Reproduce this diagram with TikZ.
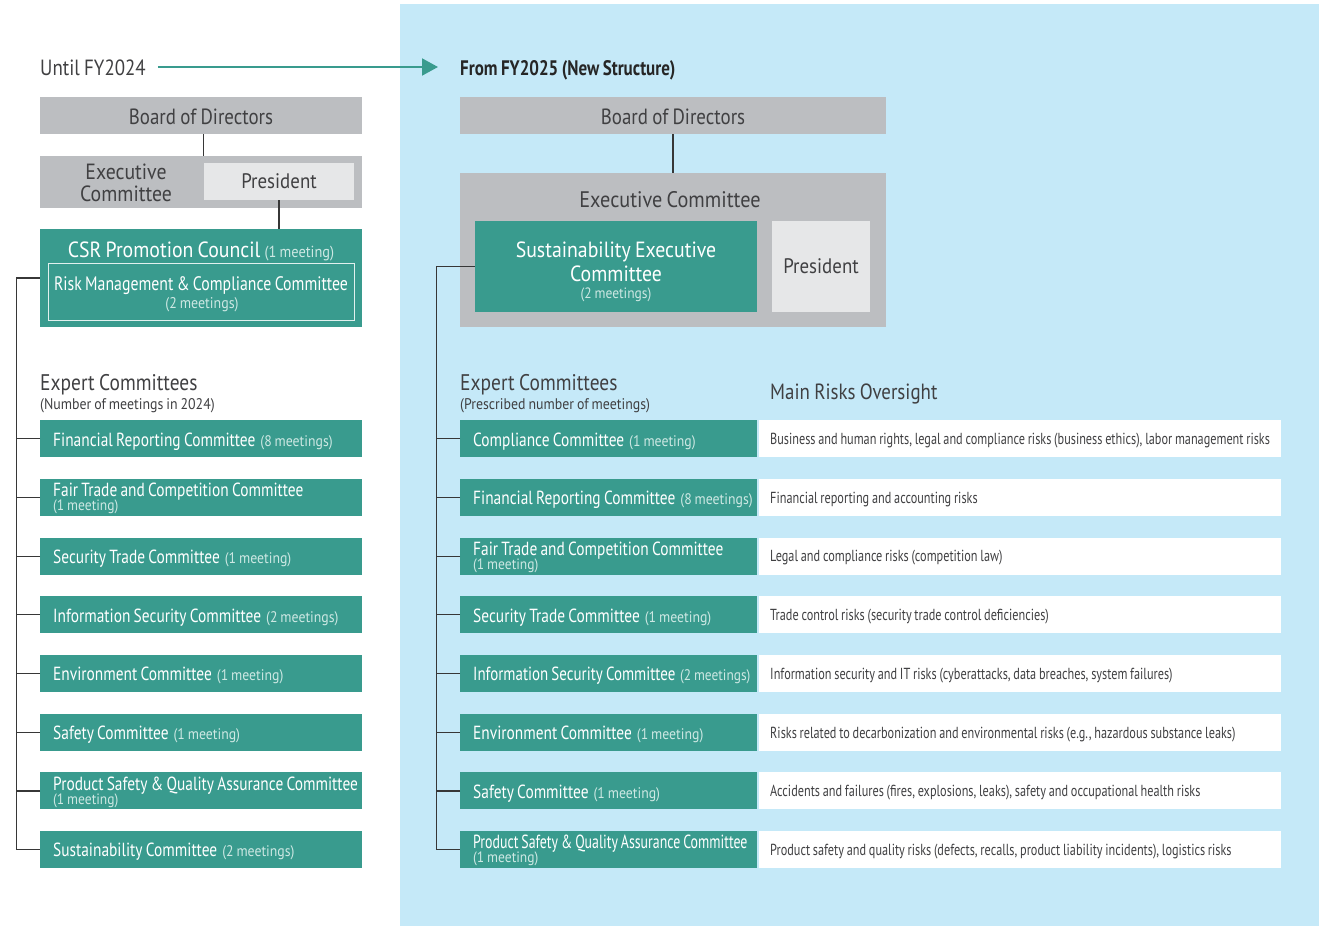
\documentclass[tikz,border=0pt]{standalone}
\usepackage{fontspec}
\setmainfont{PT Sans}
\newfontfamily\cnd[FakeStretch=0.81,WordSpace=0.8]{PT Sans}
\newfontfamily\cndr[FakeStretch=0.765,WordSpace=0.85]{PT Sans}
\newfontfamily\rgl[FakeStretch=0.90,WordSpace=0.8]{PT Sans}
\newfontfamily\lite[FakeStretch=0.86,WordSpace=0.85]{PT Sans}
\usetikzlibrary{arrows.meta}

\definecolor{teal1}{RGB}{57,155,142}
\definecolor{grey1}{RGB}{188,190,193}
\definecolor{grey2}{RGB}{230,231,232}
\definecolor{sky}{RGB}{197,233,248}
\definecolor{ink}{RGB}{64,64,66}
\definecolor{meet}{RGB}{205,232,227}
\definecolor{wire}{RGB}{55,55,55}

\newcommand\fsz[1]{\fontsize{#1}{#1}\selectfont}
\newcommand\mt[1]{{\rgl\fontsize{15.3}{15.3}\selectfont\color{meet}#1}}

\tikzset{
  greybox/.style={rectangle, fill=grey1, inner sep=0pt, text=ink, font=\lite\fsz{22}},
  paleb/.style={rectangle, fill=grey2, inner sep=0pt, text=ink, font=\rgl\fsz{21}},
  tealbox/.style={rectangle, fill=teal1, inner sep=0pt, text=white},
  rowbox/.style={rectangle, fill=teal1, anchor=north west, inner sep=0pt, minimum height=37pt},
  riskbox/.style={rectangle, fill=white, anchor=north west, inner sep=0pt, minimum height=37pt,
    minimum width=522pt},
  rowname/.style={anchor=base west, inner sep=0pt, text=white, font=\cnd\fsz{19}},
  rowmeet/.style={anchor=base west, inner sep=0pt, text=meet, font=\rgl\fsz{15}},
  risktext/.style={anchor=base west, inner sep=0pt, text=ink, font=\cndr\fsz{16}},
  plain/.style={inner sep=0pt, text=ink},
  wireline/.style={draw=wire, line width=1.2pt},
}

\begin{document}
\begin{tikzpicture}[x=1pt,y=-1pt]
\useasboundingbox (0,0) rectangle (1319,926);
\fill[sky] (400,4) rectangle (1319,926);

% headings and transition arrow
\node[plain, anchor=base west, font=\lite\fsz{22}] (until) at (40,75) {Until FY2024};
\node[plain, anchor=base west, font=\cnd\bfseries\fsz{21}, text=black!85] (from) at (460,75) {From FY2025 (New Structure)};
\draw[teal1, line width=2pt, -{Triangle[length=16pt,width=17pt]}]
  ([xshift=12pt,yshift=8pt]until.base east) -- ([xshift=-22pt,yshift=8pt]from.base west);

% ---------------- structure until FY2024 ----------------
\node[greybox, minimum width=322pt, minimum height=37pt] (bodL) at (201,115.5) {};
\node[plain, anchor=base, font=\lite\fsz{22}] (bodLt) at (201,124) {Board of Directors};
\node[greybox, minimum width=322pt, minimum height=52pt] (exL) at (201,182) {};
\node[plain, align=center, font=\rgl\fontsize{22}{22}\selectfont] (exLt) at (126,183) {Executive\\Committee};
\node[paleb, minimum width=150pt, minimum height=37pt] (presL) at (279,181.5) {President};
\draw[wireline] (bodL.south -| presL.west) -- (exL.north -| presL.west);

\node[tealbox, minimum width=322pt, minimum height=98pt] (csrL) at (201,278) {};
\draw[wireline] (presL.south) -- (presL.south |- csrL.north);
\node[plain, text=white, anchor=base, font=\rgl\fsz{22}] (csrT) at (201,257)
  {CSR Promotion Council {\fontsize{16}{16}\selectfont\color{meet}(1 meeting)}};
\node[rectangle, draw=white!85!teal1, line width=1pt, minimum width=306pt, minimum height=57pt,
  inner sep=0pt] (rmL) at (201,291.5) {};
\node[plain, text=white, anchor=base, font=\cnd\fsz{19.5}] (rmLt) at (201,290)
  {Risk Management \& Compliance Committee};
\node[plain, text=meet, anchor=base, font=\rgl\fsz{15.5}] (rmLm) at (202,308) {(2 meetings)};

\node[plain, anchor=base west, font=\lite\fsz{22.6}] (expL) at (40,390) {Expert Committees};
\node[plain, anchor=base west, font=\rgl\fsz{15.4}] (expLs) at (40,409) {(Number of meetings in 2024)};

% expert committee rows: index / top / name / meetings / two-line flag
\foreach \i/\y/\n/\m/\two in {
  1/420/{Financial Reporting Committee}/{(8 meetings)}/0,
  2/478.7/{Fair Trade and Competition Committee}/{(1 meeting)}/1,
  3/537.4/{Security Trade Committee}/{(1 meeting)}/0,
  4/596.1/{Information Security Committee}/{(2 meetings)}/0,
  5/654.8/{Environment Committee}/{(1 meeting)}/0,
  6/713.5/{Safety Committee}/{(1 meeting)}/0,
  7/772.2/{Product Safety \& Quality Assurance Committee}/{(1 meeting)}/1,
  8/830.9/{Sustainability Committee}/{(2 meetings)}/0}
{
  \node[rowbox, minimum width=322pt] (L\i) at (40,\y) {};
  \ifnum\two=1
    \node[rowname] (Ln\i) at (53,\y+18) {\n};
    \node[rowmeet] (Lm\i) at (53,\y+32) {\m};
  \else
    \node[rowname] (Ln\i) at (53,\y+26) {\n\hspace{5pt}\mt{\m}};
  \fi
}
\draw[wireline] (csrL.west) -- ++(-23,0) coordinate (spL) |- (L8.west);
\foreach \i in {1,...,7} { \draw[wireline] (L\i.west) -- (L\i.west -| spL); }

% ---------------- structure from FY2025 ----------------
\node[greybox, minimum width=426pt, minimum height=37pt] (bodR) at (673,115.5) {};
\node[plain, anchor=base, font=\lite\fsz{22}] (bodRt) at (673,124) {Board of Directors};
\node[greybox, minimum width=426pt, minimum height=154pt] (exR) at (673,250) {};
\node[plain, anchor=base, font=\rgl\fsz{22.5}] (exRt) at (670,207) {Executive Committee};
\draw[wireline] (bodR.south) -- (exR.north);
\node[tealbox, minimum width=282pt, minimum height=91pt] (sustR) at (616,266.5) {};
\node[plain, text=white, align=center, font=\rgl\fontsize{22}{24}\selectfont] (sustRt) at (616,262)
  {Sustainability Executive\\Committee};
\node[plain, anchor=base, font=\rgl\fsz{15}, text=meet] (sustRm) at (616,298) {(2 meetings)};
\node[paleb, minimum width=98pt, minimum height=91pt] (presR) at (821,266.5) {President};

\node[plain, anchor=base west, font=\lite\fsz{22.6}] (expR) at (460,390) {Expert Committees};
\node[plain, anchor=base west, font=\rgl\fsz{15.4}] (expRs) at (460,409) {(Prescribed number of meetings)};
\node[plain, anchor=base west, font=\lite\fsz{22}] (mro) at (770,399) {Main Risks Oversight};

% index / top / name / meetings / two-line flag / horizontal squeeze / risks
\foreach \i/\y/\n/\m/\two/\s/\r in {
  1/420/{Compliance Committee}/{(1 meeting)}/0/1/{Business and human rights, legal and compliance risks (business ethics), labor management risks},
  2/478.7/{Financial Reporting Committee}/{(8 meetings)}/0/1/{Financial reporting and accounting risks},
  3/537.4/{Fair Trade and Competition Committee}/{(1 meeting)}/1/1/{Legal and compliance risks (competition law)},
  4/596.1/{Security Trade Committee}/{(1 meeting)}/0/1/{Trade control risks (security trade control deficiencies)},
  5/654.8/{Information Security Committee}/{(2 meetings)}/0/0.972/{Information security and IT risks (cyberattacks, data breaches, system failures)},
  6/713.5/{Environment Committee}/{(1 meeting)}/0/1/{Risks related to decarbonization and environmental risks (e.g., hazardous substance leaks)},
  7/772.2/{Safety Committee}/{(1 meeting)}/0/1/{Accidents and failures (fires, explosions, leaks), safety and occupational health risks},
  8/830.9/{Product Safety \& Quality Assurance Committee}/{(1 meeting)}/1/0.9/{Product safety and quality risks (defects, recalls, product liability incidents), logistics risks}}
{
  \node[rowbox, minimum width=297pt] (R\i) at (460,\y) {};
  \node[riskbox] (K\i) at ([xshift=1pt]R\i.north east) {};
  \ifnum\two=1
    \node[rowname] (Rn\i) at (473,\y+18) {\scalebox{\s}[1]{\n}};
    \node[rowmeet] (Rm\i) at (473,\y+32) {\m};
  \else
    \node[rowname] (Rn\i) at (473,\y+26) {\scalebox{\s}[1]{\n\hspace{5pt}\mt{\m}}};
  \fi
  \node[risktext] (Kt\i) at (770,\y+24.5) {\r};
}
\draw[wireline] (sustR.west) -- ++(-38,0) coordinate (spR) |- (R8.west);
\foreach \i in {1,...,7} { \draw[wireline] (R\i.west) -- (R\i.west -| spR); }
\end{tikzpicture}
\end{document}
